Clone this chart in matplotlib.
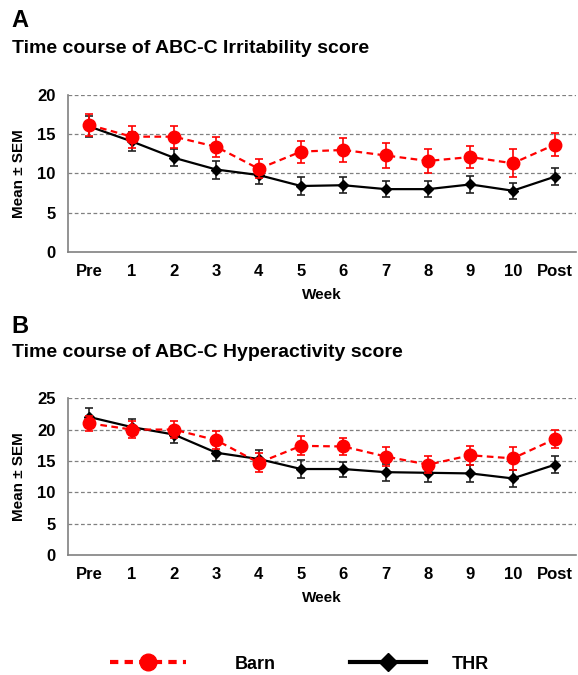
import matplotlib
matplotlib.use("Agg")
from matplotlib import pyplot as plt

plt.rcParams['font.family'] = ['Liberation Sans', 'DejaVu Sans']
plt.rcParams['font.weight'] = 'bold'

weeks = ['Pre', '1', '2', '3', '4', '5', '6', '7', '8', '9', '10', 'Post']

# panel A: irritability
irr_barn = [16.2, 14.7, 14.7, 13.4, 10.6, 12.8, 13.0, 12.3, 11.6, 12.1, 11.3, 13.7]
irr_barn_err = [1.4, 1.4, 1.4, 1.3, 1.2, 1.4, 1.5, 1.6, 1.5, 1.4, 1.8, 1.5]
irr_thr = [16.0, 14.1, 12.0, 10.5, 9.8, 8.4, 8.5, 8.0, 8.0, 8.6, 7.8, 9.6]
irr_thr_err = [1.3, 1.2, 1.1, 1.15, 1.1, 1.1, 1.0, 1.0, 1.0, 1.1, 1.0, 1.1]

# panel B: hyperactivity
hyp_barn = [21.0, 20.0, 20.0, 18.3, 14.7, 17.4, 17.3, 15.7, 14.4, 15.9, 15.4, 18.5]
hyp_barn_err = [1.2, 1.3, 1.3, 1.4, 1.5, 1.5, 1.4, 1.5, 1.4, 1.55, 1.8, 1.5]
hyp_thr = [22.0, 20.4, 19.2, 16.3, 15.3, 13.7, 13.7, 13.2, 13.1, 13.0, 12.2, 14.4]
hyp_thr_err = [1.4, 1.3, 1.35, 1.35, 1.4, 1.4, 1.2, 1.35, 1.4, 1.4, 1.35, 1.4]


def draw_panel(ax, barn, barn_err, thr, thr_err, ymax):
    x = list(range(len(weeks)))
    for y in range(5, ymax + 1, 5):
        ax.axhline(y, color='#808080', ls=(0, (3, 2)), lw=0.9, zorder=0)
    ax.errorbar(x, thr, yerr=thr_err, color='black', ecolor='#222222', lw=1.6,
                marker='D', ms=5, capsize=3, elinewidth=1.2, capthick=1.2, zorder=3)
    ax.errorbar(x, barn, yerr=barn_err, color='#FF0000', ls=(0, (3, 2)), lw=1.6,
                marker='o', ms=9, capsize=3, elinewidth=1.2, capthick=1.2, zorder=4)
    ax.set_xlim(-0.5, len(weeks) - 0.5)
    ax.set_ylim(0, ymax)
    ax.set_yticks(range(0, ymax + 1, 5))
    ax.set_xticks(x)
    ax.set_xticklabels(weeks)
    ax.tick_params(length=0, labelsize=12, pad=9)
    for s in ['top', 'right']:
        ax.spines[s].set_visible(False)
    for s in ['left', 'bottom']:
        ax.spines[s].set_color('#808080')
        ax.spines[s].set_linewidth(1.2)
    ax.set_ylabel('Mean ± SEM', fontsize=11, fontweight='bold', labelpad=8)
    ax.set_xlabel('Week', fontsize=11, fontweight='bold', labelpad=6)


fig = plt.figure(figsize=(5.78, 6.75), dpi=100)
ax1 = fig.add_axes([0.118, 0.627, 0.879, 0.232])
ax2 = fig.add_axes([0.118, 0.178, 0.879, 0.232])

draw_panel(ax1, irr_barn, irr_barn_err, irr_thr, irr_thr_err, 20)
draw_panel(ax2, hyp_barn, hyp_barn_err, hyp_thr, hyp_thr_err, 25)

fig.text(0.02, 0.97, 'A', fontsize=17, fontweight='bold', va='center')
fig.text(0.02, 0.928, 'Time course of ABC-C Irritability score', fontsize=14, fontweight='bold', va='center')
fig.text(0.02, 0.517, 'B', fontsize=17, fontweight='bold', va='center')
fig.text(0.02, 0.478, 'Time course of ABC-C Hyperactivity score', fontsize=14, fontweight='bold', va='center')

h1, = plt.plot([], [], color='#FF0000', ls=(0, (2, 1.5)), lw=3, marker='o', ms=12)
h2, = plt.plot([], [], color='black', lw=3, marker='D', ms=9)
leg1 = fig.legend([h1], ['Barn'], loc='center left', bbox_to_anchor=(0.19, 0.016),
                  frameon=False, borderpad=0, borderaxespad=0, handlelength=4.2,
                  handletextpad=2.7, prop={'weight': 'bold', 'size': 13})
fig.legend([h2], ['THR'], loc='center left', bbox_to_anchor=(0.606, 0.016),
           frameon=False, borderpad=0, borderaxespad=0, handlelength=4.2,
           handletextpad=1.4, prop={'weight': 'bold', 'size': 13})

fig.savefig('out.png', dpi=100)
